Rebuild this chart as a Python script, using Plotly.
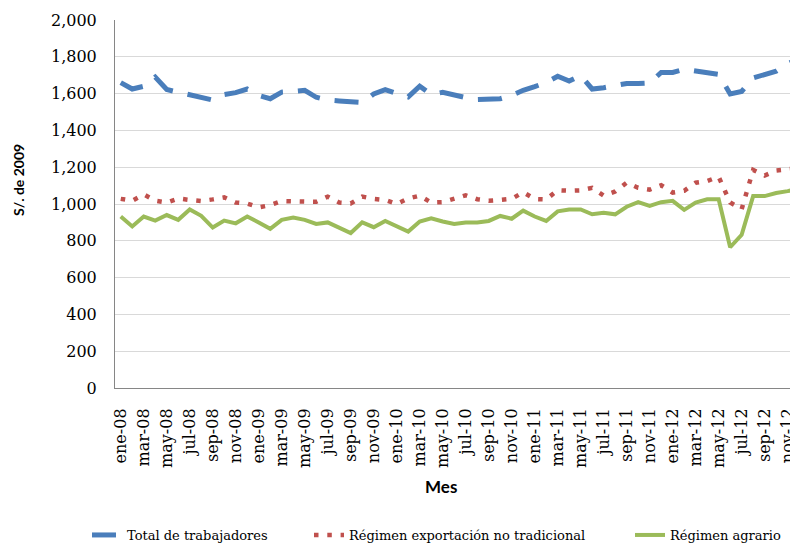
import plotly.graph_objects as go

meses = ["ene", "feb", "mar", "abr", "may", "jun", "jul", "ago", "sep", "oct", "nov", "dic"]
anios = ["08", "09", "10", "11", "12"]
categorias = [f"{m}-{a}" for a in anios for m in meses]

total_trabajadores = [
    1660, 1625, 1640, 1690, 1622, 1608, 1590, 1578, 1565, 1595, 1605, 1625,
    1590, 1572, 1608, 1612, 1618, 1580, 1565, 1560, 1555, 1552, 1598, 1622,
    1600, 1582, 1640, 1595, 1607, 1590, 1578, 1568, 1568, 1572, 1590, 1618,
    1638, 1660, 1694, 1668, 1698, 1625, 1632, 1645, 1655, 1655, 1658, 1715,
    1715, 1732, 1722, 1708, 1704, 1598, 1612, 1685, 1706, 1722, 1762, 1790,
]
exportacion_no_tradicional = [
    1028, 1018, 1052, 1018, 1008, 1030, 1022, 1016, 1025, 1036, 1008, 1002,
    982, 994, 1016, 1016, 1015, 1012, 1040, 1008, 1003, 1040, 1028, 1022,
    1000, 1030, 1045, 1008, 1010, 1030, 1047, 1026, 1018, 1022, 1028, 1064,
    1027, 1025, 1075, 1072, 1074, 1088, 1046, 1068, 1116, 1088, 1078, 1102,
    1062, 1072, 1116, 1125, 1148, 1008, 972, 1185, 1155, 1182, 1188, 1195,
]
regimen_agrario = [
    932, 878, 932, 910, 940, 914, 970, 936, 872, 910, 895, 932,
    900, 865, 914, 926, 914, 892, 900, 872, 842, 900, 874, 908,
    880, 850, 905, 922, 905, 892, 900, 900, 908, 935, 920, 964,
    932, 908, 960, 970, 970, 944, 952, 944, 985, 1010, 990, 1010,
    1017, 968, 1008, 1026, 1026, 765, 833, 1043, 1043, 1060, 1070, 1083,
]

# The page keeps the browser's default 8px body margin, so the figure is
# sized to the 798x543 window minus that offset.
OFF = 8
W, H = 798 - OFF, 543 - OFF
ML, MR, MT, MB = 115 - OFF, 0, 20 - OFF, 543 - 388
PW, PH = W - ML - MR, H - MT - MB

serif = "DejaVu Serif"
sans = "Lato"

fig = go.Figure()
fig.add_trace(go.Scatter(
    x=categorias, y=total_trabajadores, mode="lines", name="Total de trabajadores",
    line=dict(color="#4A7EBB", width=5, dash="24px,15px"), legend="legend",
))
fig.add_trace(go.Scatter(
    x=categorias, y=exportacion_no_tradicional, mode="lines",
    name="Régimen exportación no tradicional",
    line=dict(color="#C0504D", width=4.5, dash="4.5px,8.8px"), legend="legend2",
))
fig.add_trace(go.Scatter(
    x=categorias, y=regimen_agrario, mode="lines", name="Régimen agrario",
    line=dict(color="#9BBB59", width=4), legend="legend3",
))

def px2paper_x(sx):
    return (sx - OFF - ML) / PW

def px2paper_y(sy):
    return (H - MB - (sy - OFF)) / PH

legend_common = dict(orientation="h", yref="container", xref="container",
                     y=(H - (535 - OFF)) / H, yanchor="middle", xanchor="left",
                     bgcolor="rgba(0,0,0,0)", font=dict(family=serif, size=13, color="#000"))

fig.update_layout(
    width=W, height=H,
    margin=dict(l=ML, r=MR, t=MT, b=MB, autoexpand=False),
    paper_bgcolor="white", plot_bgcolor="white",
    showlegend=True,
    legend=dict(x=(87 - OFF) / W, **legend_common),
    legend2=dict(x=(309 - OFF) / W, **legend_common),
    legend3=dict(x=(630 - OFF) / W, **legend_common),
    xaxis=dict(
        type="category", range=[-0.5, 58.9], automargin=False,
        tickmode="array", tickvals=categorias[::2], ticktext=categorias[::2],
        tickangle=-90, tickfont=dict(family=serif, size=16, color="#000"),
        showgrid=False, showline=True, linecolor="#868686", linewidth=1,
        ticks="", ticklabelstandoff=13, zeroline=False,
    ),
    yaxis=dict(
        range=[0, 2000], dtick=200, tickformat=",", automargin=False,
        tickfont=dict(family=serif, size=16, color="#000"),
        showgrid=True, gridcolor="#D9D9D9", gridwidth=1,
        showline=True, linecolor="#868686", linewidth=1,
        ticks="", ticklabelstandoff=14, zeroline=False,
    ),
    annotations=[
        dict(text="<b>S/. de 2009</b>", textangle=-90, xref="paper", yref="paper",
             x=px2paper_x(18), y=px2paper_y(180), showarrow=False,
             xanchor="center", yanchor="middle",
             font=dict(family=sans, size=14, color="#000")),
        dict(text="<b>Mes</b>", xref="paper", yref="paper",
             x=px2paper_x(441), y=px2paper_y(486), showarrow=False,
             xanchor="center", yanchor="middle",
             font=dict(family=sans, size=17, color="#000")),
    ],
)

fig.write_html("out.html")
